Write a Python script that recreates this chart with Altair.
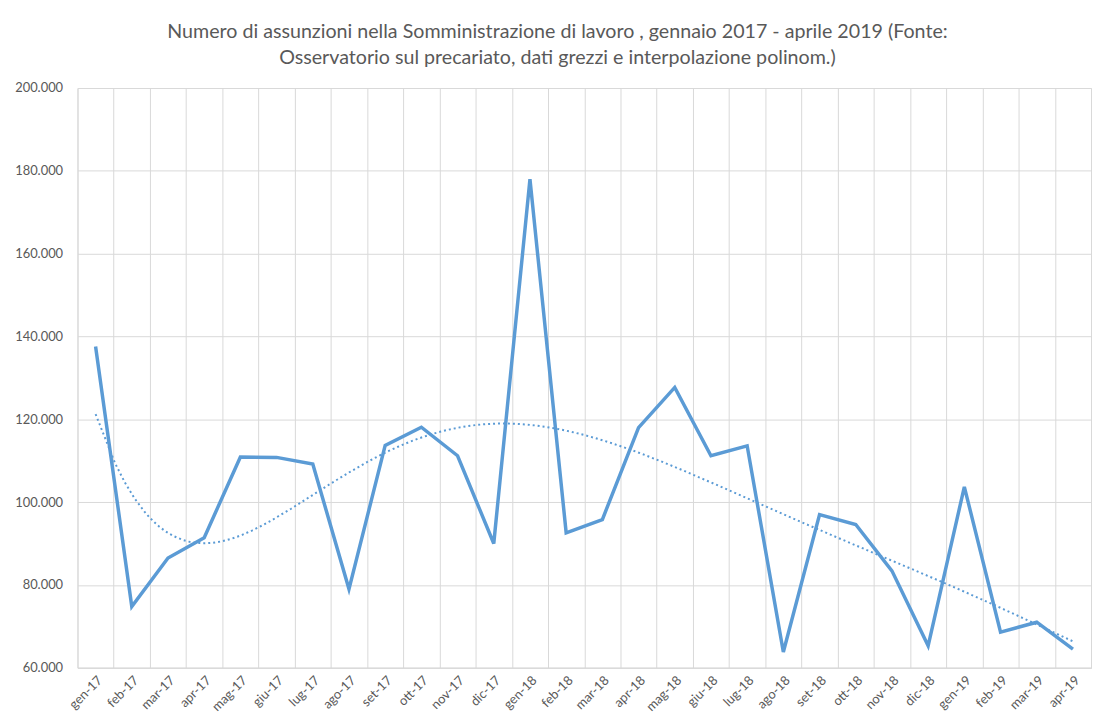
import json
import altair as alt
import pandas as pd

months = ["gen-17", "feb-17", "mar-17", "apr-17", "mag-17", "giu-17", "lug-17",
          "ago-17", "set-17", "ott-17", "nov-17", "dic-17", "gen-18", "feb-18",
          "mar-18", "apr-18", "mag-18", "giu-18", "lug-18", "ago-18", "set-18",
          "ott-18", "nov-18", "dic-18", "gen-19", "feb-19", "mar-19", "apr-19"]
values = [137600, 74800, 86500, 91400, 110900, 110800, 109200, 79000, 113700,
          118100, 111200, 90000, 178000, 92600, 95800, 118000, 127700, 111200,
          113600, 63800, 97000, 94600, 83400, 65300, 103700, 68600, 71000, 64500]
y_ticks = [60000, 80000, 100000, 120000, 140000, 160000, 180000, 200000]

df = pd.DataFrame({"idx": list(range(len(months))), "mese": months, "valore": values})

n = len(months)
grid_vals = [i - 0.5 for i in range(n + 1)]
W, H = 1021, 584
label_expr = f"datum.value > {n - 1} ? '' : {json.dumps(months)}[round(datum.value + 0.5)]"

blue = "#5B9BD5"
gray_txt = "#595959"
grid = "#D9D9D9"
FONT = "Lato"

x_enc = alt.X("idx:Q",
              scale=alt.Scale(domain=[-0.5, n - 0.5], nice=False, zero=False),
              axis=alt.Axis(values=grid_vals, grid=True, gridColor=grid, gridWidth=1,
                            domainColor=grid, domainWidth=1, ticks=False,
                            labelExpr=label_expr, labelAngle=-45, labelOffset=W / n / 2,
                            labelPadding=6, labelFontSize=13, labelColor=gray_txt,
                            labelFont=FONT, title=None, labelOverlap=False))
y_enc = alt.Y("valore:Q",
              scale=alt.Scale(domain=[60000, 200000], nice=False, zero=False),
              axis=alt.Axis(values=y_ticks, grid=True, gridColor=grid, gridWidth=1,
                            domain=False, ticks=False,
                            labelExpr="replace(format(datum.value, ','), ',', '.')",
                            labelPadding=15, labelFontSize=13, labelColor=gray_txt,
                            labelFont=FONT, title=None))

base = alt.Chart(df)
line = base.mark_line(color=blue, strokeWidth=3.5, strokeJoin="miter").encode(x=x_enc, y=y_enc)
trend = base.transform_regression("idx", "valore", method="poly", order=6).mark_line(
    color=blue, strokeWidth=2, strokeDash=[2, 3]).encode(x=x_enc, y=y_enc)

chart = alt.layer(trend, line).properties(
    width=W, height=H,
    title=alt.TitleParams(
        ["Numero di assunzioni nella Somministrazione di lavoro , gennaio 2017 - aprile 2019 (Fonte:",
         "Osservatorio sul precariato, dati grezzi e interpolazione polinom.)"],
        font=FONT, fontSize=19.8, fontWeight="normal", color=gray_txt,
        anchor="middle", dx=-27, offset=14, lineHeight=27),
    padding={"left": 70, "top": 78, "right": 4, "bottom": 50},
    autosize=alt.AutoSizeParams(type="none"),
).configure_view(stroke=grid).configure(background="white")

chart.save("out.html", embed_options={"renderer": "svg", "actions": False})
